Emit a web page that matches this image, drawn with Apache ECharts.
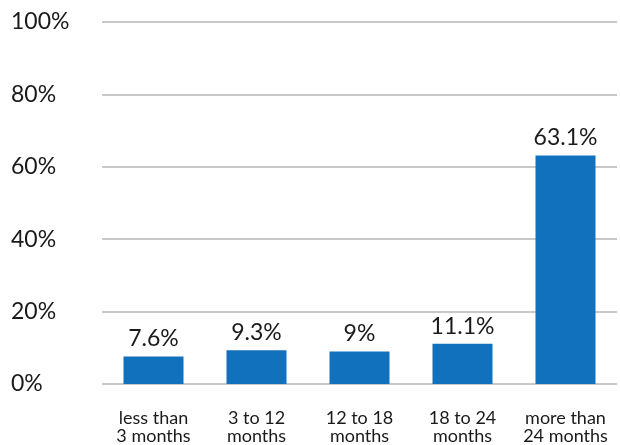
<!DOCTYPE html>
<html><head><meta charset="utf-8">
<script src="https://cdn.jsdelivr.net/npm/echarts@6/dist/echarts.min.js"></script>
<style>html,body{margin:0;padding:0;background:#fff}#c{width:620px;height:445px}</style>
</head><body><div id="c"></div>
<script>
const categories = ['less than\n3 months', '3 to 12\nmonths', '12 to 18\nmonths', '18 to 24\nmonths', 'more than\n24 months'];
const values = [7.6, 9.3, 9, 11.1, 63.1];
const yTicks = [0, 20, 40, 60, 80, 100];

const chart = echarts.init(document.getElementById('c'));
chart.setOption({
  animation: false,
  textStyle: { fontFamily: 'Lato' },
  grid: { left: 102, right: 3, top: 22, bottom: 60, containLabel: false },
  xAxis: {
    type: 'category', data: categories,
    axisLine: { show: false }, axisTick: { show: false },
    axisLabel: { fontFamily: 'Lato', fontSize: 18, color: '#1a1a1a', lineHeight: 18, margin: 25, interval: 0 }
  },
  yAxis: {
    type: 'value', min: yTicks[0], max: yTicks[yTicks.length - 1], interval: 20,
    axisLine: { show: false }, axisTick: { show: false },
    splitLine: { lineStyle: { color: '#c8c8c8', width: 2 } },
    axisLabel: { fontFamily: 'Lato', fontSize: 23, color: '#1a1a1a', align: 'left', margin: 91, formatter: v => v + '%' }
  },
  series: [{
    type: 'bar', data: values, barWidth: 60,
    itemStyle: { color: '#1271bc' },
    label: { show: true, position: 'top', distance: 6, fontFamily: 'Lato', fontSize: 23, color: '#1a1a1a', formatter: p => p.value + '%' }
  }]
});
</script></body></html>
